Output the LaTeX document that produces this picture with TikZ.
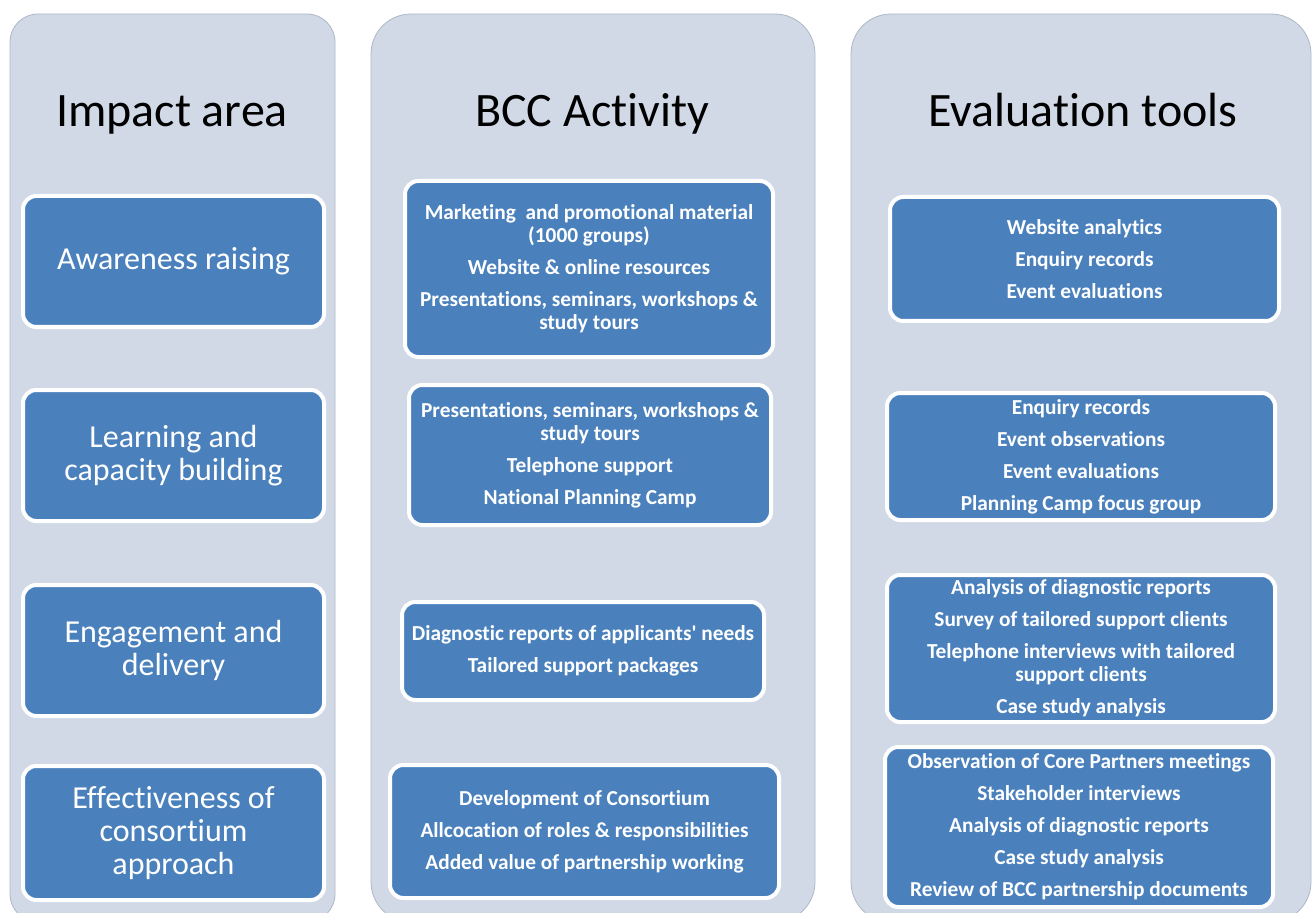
\documentclass[tikz,border=0pt]{standalone}
\usepackage{fontspec}
\setmainfont{Carlito}[Ligatures={NoCommon,NoContextual,NoRequired}, RawFeature={-liga;-clig;-calt;-dlig}]

\definecolor{colfill}{HTML}{D1D9E7}
\definecolor{coledge}{HTML}{AEB7C8}
\definecolor{boxblue}{HTML}{4A81BD}

\tikzset{
    column/.style={fill=colfill, draw=coledge, line width=0.6pt},
    heading/.style={anchor=base, font=\fontsize{36}{40}\selectfont},
    areabox/.style={draw=white, fill=boxblue, line width=3pt, rounded corners=10pt,
        text=white, align=center, inner sep=0pt, font=\fontsize{24}{25}\selectfont},
    toolbox/.style={areabox, font=\fontsize{16}{17.25}\selectfont\bfseries},
}

\begin{document}
\begin{tikzpicture}[x=0.75pt, y=-0.75pt]
    \useasboundingbox (0,0) rectangle (1315,913);

    % Columns
    \foreach \xa/\xb/\r in {10/335/21pt, 371/815/30pt, 851/1311/30pt}
        \draw[column, rounded corners=\r] (\xa,14) rectangle (\xb,922);

    % Headings
    \node[heading] (hImpact) at (172,127) {Impact area};
    \node[heading] (hActivity) at (592,127) {BCC Activity};
    \node[heading] (hTools) at (1083,127) {Evaluation tools};

    % Impact areas
    \node[areabox, minimum width=225.75pt, minimum height=98.25pt] (area1) at (173.5,261.5)
        {Awareness raising};
    \node[areabox, minimum width=225.75pt, minimum height=98.25pt] (area2) at (173.5,455.5)
        {Learning and\\capacity building};
    \node[areabox, minimum width=225.75pt, minimum height=98.25pt] (area3) at (173.5,650.5)
        {Engagement and\\delivery};
    \node[areabox, minimum width=225.75pt, minimum height=100.5pt] (area4) at (173.5,833)
        {Effectiveness of\\consortium\\approach};

    % BCC activities
    \node[toolbox, minimum width=276pt, minimum height=132pt] (act1) at (589,269)
        {Marketing\ \ and promotional material\\(1000 groups)\\[6.75pt]
         Website \& online resources\\[6.75pt]
         Presentations, seminars, workshops \&\\study tours};
    \node[toolbox, minimum width=271.5pt, minimum height=105pt] (act2) at (590,455)
        {Presentations, seminars, workshops \&\\study tours\\[6.75pt]
         Telephone support\\[6.75pt]
         National Planning Camp};
    \node[toolbox, minimum width=271.5pt, minimum height=73.5pt] (act3) at (583,651)
        {Diagnostic reports of applicants\textquotesingle\ needs\\[6.75pt]
         Tailored support packages};
    \node[toolbox, minimum width=291.75pt, minimum height=99.75pt] (act4) at (584.5,831.5)
        {Development of Consortium\\[6.75pt]
         Allcocation of roles \& responsibilities\\[6.75pt]
         Added value of partnership working};

    % Evaluation tools
    \node[toolbox, minimum width=291.75pt, minimum height=93pt] (tool1) at (1084.5,259)
        {Website analytics\\[6.75pt]
         Enquiry records\\[6.75pt]
         Event evaluations};
    \node[toolbox, minimum width=291pt, minimum height=95.25pt] (tool2) at (1081,456.5)
        {Enquiry records\\[6.75pt]
         Event observations\\[6.75pt]
         Event evaluations\\[6.75pt]
         Planning Camp focus group};
    \node[toolbox, minimum width=291pt, minimum height=110.25pt] (tool3) at (1081,648.5)
        {Analysis of diagnostic reports\\[6.75pt]
         Survey of tailored support clients\\[6.75pt]
         Telephone interviews with tailored\\support clients\\[6.75pt]
         Case study analysis};
    \node[toolbox, minimum width=291pt, minimum height=120pt] (tool4) at (1079,827)
        {Observation of Core Partners meetings\\[6.75pt]
         Stakeholder interviews\\[6.75pt]
         Analysis of diagnostic reports\\[6.75pt]
         Case study analysis\\[6.75pt]
         Review of BCC partnership documents};
\end{tikzpicture}
\end{document}
